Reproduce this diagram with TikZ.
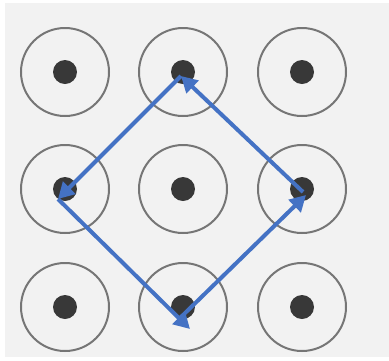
\documentclass[tikz,border=0pt]{standalone}
\usepackage{tikz}
\usetikzlibrary{arrows.meta}
\definecolor{pageGray}{HTML}{F2F2F2}
\definecolor{ringGray}{HTML}{767676}
\definecolor{dotGray}{HTML}{383838}
\definecolor{swipeBlue}{HTML}{4472C4}

\begin{document}
\begin{tikzpicture}[x=1pt, y=-1pt,
  ring/.style={draw=ringGray, line width=2pt, circle, inner sep=0pt, minimum size=88pt},
  dot/.style={fill=dotGray, circle, inner sep=0pt, minimum size=24pt},
  swipe/.style={draw=swipeBlue, line width=4pt, -{Triangle[length=16pt,width=17pt]}}]
\useasboundingbox (0,0) rectangle (389,360);
\fill[pageGray] (5,3) rectangle (389,357);
% the nine keys of the pattern lock
\node[ring] (r1) at (65,72) {};
\node[ring] (r2) at (183,72) {};
\node[ring] (r3) at (302,72) {};
\node[ring] (r4) at (65,189) {};
\node[ring] (r5) at (183,189) {};
\node[ring] (r6) at (302,189) {};
\node[ring] (r7) at (65,307) {};
\node[ring] (r8) at (183,307) {};
\node[ring] (r9) at (302,307) {};
\node[dot] (d1) at (r1) {};
\node[dot] (d2) at (r2) {};
\node[dot] (d3) at (r3) {};
\node[dot] (d4) at (r4) {};
\node[dot] (d5) at (r5) {};
\node[dot] (d6) at (r6) {};
\node[dot] (d7) at (r7) {};
\node[dot] (d8) at (r8) {};
\node[dot] (d9) at (r9) {};
% corners of the swipe
\coordinate (top) at (181,76);
\coordinate (left) at (58,199);
\coordinate (botA) at (180,318);
\coordinate (botB) at (190,329);
\coordinate (rightA) at (303,192);
\coordinate (rightB) at (306,195);
\draw[swipe] (botA) -- (rightB);
\draw[swipe] (rightA) -- (top);
\draw[swipe] (top) -- (left);
\draw[swipe] (left) -- (botB);
\end{tikzpicture}
\end{document}
